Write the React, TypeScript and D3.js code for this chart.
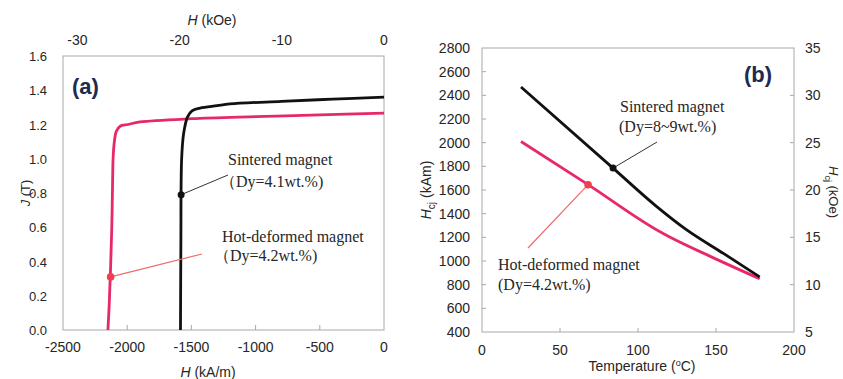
import React from 'react';
import * as d3 from 'd3';

// (a) demagnetization curves: H in kA/m, J in T
const sinteredH = [-1585, -1582, -1576, -1560, -1530, -1495, -1433, -1300, -1200, -800, -400, 0];
const sinteredJ = [0, 0.5, 1.0, 1.15, 1.245, 1.28, 1.296, 1.31, 1.32, 1.335, 1.348, 1.36];
const hotH = [-2150, -2140, -2130, -2120, -2113, -2110, -2100, -2085, -2055, -1995, -1900, -1500, -1000, -500, 0];
const hotJ = [0, 0.15, 0.35, 0.6, 0.9, 1.0, 1.1, 1.16, 1.19, 1.2, 1.215, 1.234, 1.246, 1.256, 1.267];
const sinteredMark = { h: -1580, j: 0.79 };
const hotMark = { h: -2129, j: 0.31 };

const hTicks = [-2500, -2000, -1500, -1000, -500, 0];
const jTicks = [0, 0.2, 0.4, 0.6, 0.8, 1.0, 1.2, 1.4, 1.6];
const kOeTicks = [-30, -20, -10, 0];
const KA_PER_KOE = 79.577;

// (b) coercivity vs temperature
const tempSintered = [25, 84, 112, 131, 155, 178];
const hcjSintered = [2470, 1785, 1460, 1265, 1062, 865];
const tempHot = [25, 68, 115, 120, 147, 178];
const hcjHot = [2010, 1645, 1240, 1205, 1035, 850];
const sinteredMarkB = { t: 84, v: 1785 };
const hotMarkB = { t: 68, v: 1645 };

const tempTicks = [0, 50, 100, 150, 200];
const hcjTicks = [400, 600, 800, 1000, 1200, 1400, 1600, 1800, 2000, 2200, 2400, 2600, 2800];
const hcjKOeTicks = [5, 10, 15, 20, 25, 30, 35];

const SANS = 'Liberation Sans, Arial, sans-serif';
const SERIF = 'Liberation Serif, Times New Roman, serif';
const RED = '#e8286c';
const FRAME = '#a8a8a8';
const TXT = '#262626';
const NAVY = '#1d2b52';

export default function App() {
  // panel (a)
  const xa = d3.scaleLinear().domain([-2500, 0]).range([63, 384]);
  const ya = d3.scaleLinear().domain([0, 1.6]).range([330, 56]);
  const lineA = d3
    .line<[number, number]>()
    .x((d) => xa(d[0]))
    .y((d) => ya(d[1]))
    .curve(d3.curveCatmullRom.alpha(0.5));
  const sinteredPath = lineA(sinteredH.map((h, i) => [h, sinteredJ[i]]));
  const hotPath = lineA(hotH.map((h, i) => [h, hotJ[i]]));

  // panel (b)
  const xb = d3.scaleLinear().domain([0, 200]).range([482, 794]);
  const yb = d3.scaleLinear().domain([400, 2800]).range([332, 48]);
  const ybk = d3.scaleLinear().domain([5, 35]).range([332, 48]);
  const lineB = d3
    .line<[number, number]>()
    .x((d) => xb(d[0]))
    .y((d) => yb(d[1]))
    .curve(d3.curveMonotoneX);
  const sinteredPathB = lineB(tempSintered.map((t, i) => [t, hcjSintered[i]]));
  const hotPathB = lineB(tempHot.map((t, i) => [t, hcjHot[i]]));

  const fs = 14;
  const fsY = 13;

  return (
    <svg
      width={843}
      height={379}
      style={{ position: 'absolute', left: 0, top: 0, background: '#fff' }}
      fontFamily={SANS}
    >
      <rect x={0} y={0} width={843} height={379} fill="#fff" />

      {/* ---------- (a) ---------- */}
      <rect x={63} y={56} width={321} height={274} fill="none" stroke={FRAME} strokeWidth={1} />
      {hTicks.slice(1, -1).map((t) => (
        <line key={'hta' + t} x1={xa(t)} x2={xa(t)} y1={330} y2={325} stroke={FRAME} />
      ))}
      {hTicks.map((t) => (
        <text key={'hl' + t} x={xa(t)} y={352} fontSize={fs} textAnchor="middle" fill={TXT}>
          {t}
        </text>
      ))}
      {jTicks.map((t) => (
        <text key={'jl' + t} x={47} y={ya(t) + 5} fontSize={fsY} textAnchor="end" fill={TXT}>
          {t.toFixed(1)}
        </text>
      ))}
      {kOeTicks.map((t) => (
        <text key={'kl' + t} x={xa(t * KA_PER_KOE)} y={45} fontSize={fs} textAnchor="middle" fill={TXT}>
          {t}
        </text>
      ))}
      <text x={212} y={25} fontSize={fs} textAnchor="middle" fill={TXT}>
        <tspan fontStyle="italic">H</tspan> (kOe)
      </text>
      <text x={208} y={377} fontSize={fs} textAnchor="middle" fill={TXT}>
        <tspan fontStyle="italic">H</tspan> (kA/m)
      </text>
      <text transform="translate(30,193) rotate(-90)" fontSize={fsY} textAnchor="middle" fill={TXT}>
        <tspan fontStyle="italic">J</tspan> (T)
      </text>
      <text x={72} y={94} fontSize={22} fontWeight="bold" fill={NAVY}>
        (a)
      </text>

      <path d={hotPath ?? ''} fill="none" stroke={RED} strokeWidth={2.8} />
      <path d={sinteredPath ?? ''} fill="none" stroke="#111" strokeWidth={2.8} />

      {/* leader lines and markers */}
      <line x1={xa(sinteredMark.h)} y1={ya(sinteredMark.j)} x2={228} y2={175} stroke="#333" strokeWidth={1} />
      <circle cx={xa(sinteredMark.h)} cy={ya(sinteredMark.j)} r={3.5} fill="#111" />
      <line x1={xa(hotMark.h)} y1={ya(hotMark.j)} x2={202} y2={254} stroke="#f06a6a" strokeWidth={1.2} />
      <circle cx={xa(hotMark.h)} cy={ya(hotMark.j)} r={3.8} fill="#f0404f" />

      <text x={228} y={165} fontSize={16} fontFamily={SERIF} fill={TXT}>
        Sintered magnet
      </text>
      <text x={220} y={187} fontSize={16} fontFamily={SERIF} fill={TXT}>
        （Dy=4.1wt.%)
      </text>
      <text x={222} y={242} fontSize={16} fontFamily={SERIF} fill={TXT}>
        Hot-deformed magnet
      </text>
      <text x={214} y={261} fontSize={16} fontFamily={SERIF} fill={TXT}>
        （Dy=4.2wt.%)
      </text>

      {/* ---------- (b) ---------- */}
      <rect x={482} y={48} width={312} height={284} fill="none" stroke={FRAME} strokeWidth={1} />
      {tempTicks.slice(1, -1).map((t) => (
        <line key={'ttb' + t} x1={xb(t)} x2={xb(t)} y1={332} y2={328} stroke={FRAME} />
      ))}
      {hcjTicks.slice(1, -1).map((t) => (
        <line key={'htb' + t} x1={482} x2={486} y1={yb(t)} y2={yb(t)} stroke={FRAME} />
      ))}
      {hcjKOeTicks.slice(1, -1).map((t) => (
        <line key={'ktb' + t} x1={794} x2={790} y1={ybk(t)} y2={ybk(t)} stroke={FRAME} />
      ))}
      {tempTicks.map((t) => (
        <text key={'tl' + t} x={xb(t)} y={355} fontSize={fs} textAnchor="middle" fill={TXT}>
          {t}
        </text>
      ))}
      {hcjTicks.map((t) => (
        <text key={'hcl' + t} x={470} y={yb(t) + 5} fontSize={fs} textAnchor="end" fill={TXT}>
          {t}
        </text>
      ))}
      {hcjKOeTicks.map((t) => (
        <text key={'hkl' + t} x={805} y={ybk(t) + 5} fontSize={fs} textAnchor="start" fill={TXT}>
          {t}
        </text>
      ))}
      <text x={642} y={371} fontSize={fs} textAnchor="middle" fill={TXT}>
        Temperature (<tspan fontSize={9} dy={-5}>o</tspan>
        <tspan dy={5}>C)</tspan>
      </text>
      <text transform="translate(431,190) rotate(-90)" fontSize={fs} textAnchor="middle" fill={TXT}>
        <tspan fontStyle="italic">H</tspan>
        <tspan fontSize={10} dy={4}>cj</tspan>
        <tspan dy={-4}> (kAm)</tspan>
      </text>
      <text transform="translate(829,192) rotate(90)" fontSize={13} textAnchor="middle" fill={TXT}>
        <tspan fontStyle="italic">H</tspan>
        <tspan fontSize={9} dy={4}>cj</tspan>
        <tspan dy={-4}> (kOe)</tspan>
      </text>
      <text x={744} y={82} fontSize={22} fontWeight="bold" fill={NAVY}>
        (b)
      </text>

      <path d={hotPathB ?? ''} fill="none" stroke={RED} strokeWidth={2.8} />
      <path d={sinteredPathB ?? ''} fill="none" stroke="#111" strokeWidth={2.8} />

      <line x1={xb(sinteredMarkB.t)} y1={yb(sinteredMarkB.v)} x2={657} y2={142} stroke="#333" strokeWidth={1} />
      <circle cx={xb(sinteredMarkB.t)} cy={yb(sinteredMarkB.v)} r={3.5} fill="#111" />
      <line x1={xb(hotMarkB.t)} y1={yb(hotMarkB.v)} x2={528} y2={248} stroke="#f06a6a" strokeWidth={1.2} />
      <circle cx={xb(hotMarkB.t)} cy={yb(hotMarkB.v)} r={3.8} fill="#f0404f" />

      <text x={620} y={112} fontSize={16} fontFamily={SERIF} fill={TXT}>
        Sintered magnet
      </text>
      <text x={619} y={132} fontSize={16} fontFamily={SERIF} fill={TXT}>
        (Dy=8~9wt.%)
      </text>
      <text x={498} y={270} fontSize={16} fontFamily={SERIF} fill={TXT}>
        Hot-deformed magnet
      </text>
      <text x={498} y={290} fontSize={16} fontFamily={SERIF} fill={TXT}>
        (Dy=4.2wt.%)
      </text>
    </svg>
  );
}
